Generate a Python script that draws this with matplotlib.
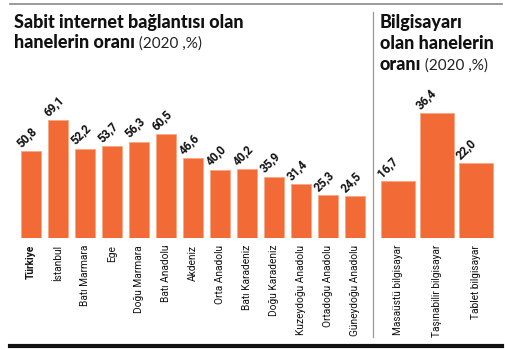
import matplotlib
matplotlib.use('Agg')
import matplotlib.pyplot as plt
from matplotlib.lines import Line2D

plt.rcParams['font.family'] = ['Roboto', 'DejaVu Sans']

regions = ['Türkiye', 'İstanbul', 'Batı Marmara', 'Ege', 'Doğu Marmara', 'Batı Anadolu',
           'Akdeniz', 'Orta Anadolu', 'Batı Karadeniz', 'Doğu Karadeniz',
           'Kuzeydoğu Anadolu', 'Ortadoğu Anadolu', 'Güneydoğu Anadolu']
internet = [50.8, 69.1, 52.2, 53.7, 56.3, 60.5, 46.6, 40.0, 40.2, 35.9, 31.4, 25.3, 24.5]

devices = ['Masaüstü bilgisayar', 'Taşınabilir bilgisayar', 'Tablet bilgisayar']
computer = [16.7, 36.4, 22.0]

ORANGE = '#F26A36'
W, H = 505, 350

fig = plt.figure(figsize=(W / 100, H / 100), dpi=100)

def px_box(x0, y0, x1, y1):
    # pixel box (top-left origin) -> figure fraction rect
    return [x0 / W, 1 - y1 / H, (x1 - x0) / W, (y1 - y0) / H]

ax1 = fig.add_axes(px_box(14, 101, 368, 238))
ax2 = fig.add_axes(px_box(376, 101, 500, 238))

def draw_bars(ax, labels, values, width, xlim, ylim, bold_first=False):
    xs = list(range(len(values)))
    ax.bar(xs, values, width=width, color=ORANGE, edgecolor='#F7A684', linewidth=0.6)
    ax.set_xlim(*xlim)
    ax.set_ylim(*ylim)
    for x, v in zip(xs, values):
        ax.annotate(f'{v:.1f}'.replace('.', ','), xy=(x - width / 2, v),
                    xytext=(0.3, 2.5), textcoords='offset points',
                    rotation=45, rotation_mode='anchor', ha='left', va='baseline',
                    fontsize=8.5, fontweight='bold', color='#111111')
    ax.set_xticks(xs)
    ax.set_xticklabels(labels, rotation=90, fontsize=7.3, va='top', color='#111111')
    if bold_first:
        ax.get_xticklabels()[0].set_fontweight('bold')
    ax.tick_params(axis='x', length=0, pad=5)
    ax.set_yticks([])
    for s in ax.spines.values():
        s.set_visible(False)

draw_bars(ax1, regions, internet, 0.74, (-0.62, 12.49), (0, 80), bold_first=True)
draw_bars(ax2, devices, computer, 0.866, (-0.56, 2.6), (0, 40))

# frame lines
fig.add_artist(Line2D([10 / W, 502 / W], [1 - 3.5 / H] * 2, color='#8a8a8a', lw=1.2))
fig.add_artist(Line2D([10 / W, 502 / W], [1 - 346 / H] * 2, color='#111111', lw=3))
fig.add_artist(Line2D([372.5 / W] * 2, [1 - 12 / H, 1 - 337 / H], color='#999999', lw=0.9))

def title_line(x, y, bold, normal=None):
    t = fig.text(x / W, 1 - y / H, bold, fontsize=13, fontweight='black',
                 family=['Lato', 'DejaVu Sans'],
                 color='#111111', va='baseline', ha='left')
    if normal:
        plt.annotate(normal, xy=(1, 0), xycoords=t, va='bottom', ha='left',
                     fontsize=11, family=['Lato', 'DejaVu Sans'], color='#222222',
                     annotation_clip=False)
    return t

title_line(14, 28, 'Sabit internet bağlantısı olan')
title_line(14, 48, 'hanelerin oranı', ' (2020 ,%)')
title_line(380, 28, 'Bilgisayarı')
title_line(380, 49, 'olan hanelerin')
title_line(380, 70, 'oranı', ' (2020 ,%)')

fig.savefig('out.png', dpi=100)
